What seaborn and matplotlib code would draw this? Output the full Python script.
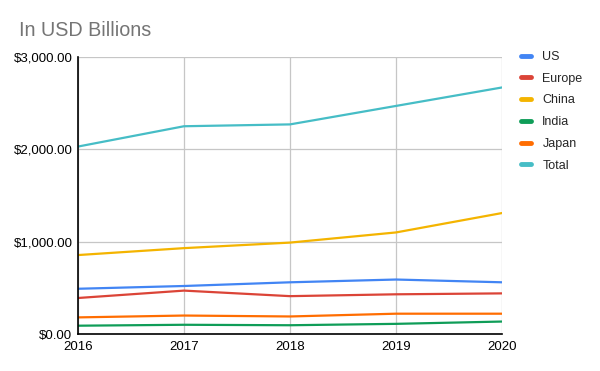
import pandas as pd
import matplotlib
matplotlib.use("Agg")
import matplotlib.pyplot as plt
import seaborn as sns

# Data (USD billions)
years = [2016, 2017, 2018, 2019, 2020]
us = [490, 520, 560, 590, 560]
europe = [390, 470, 410, 430, 440]
china = [855, 930, 990, 1100, 1310]
india = [90, 100, 95, 110, 135]
japan = [180, 200, 190, 220, 220]
total = [2030, 2250, 2270, 2470, 2670]

series = ["US", "Europe", "China", "India", "Japan", "Total"]
colors = ["#4285F4", "#DB4437", "#F4B400", "#0F9D58", "#FF6D01", "#46BDC6"]

df = pd.DataFrame({"Year": years, "US": us, "Europe": europe, "China": china,
                   "India": india, "Japan": japan, "Total": total})
long_df = df.melt(id_vars="Year", var_name="Region", value_name="Value")

sns.set_style("white")
plt.rcParams["font.family"] = ["Liberation Sans", "DejaVu Sans"]

fig = plt.figure(figsize=(6, 3.71), dpi=100)
ax = fig.add_axes([0.13, 0.0997, 0.7067, 0.7467])

sns.lineplot(data=long_df, x="Year", y="Value", hue="Region", hue_order=series,
             palette=colors, linewidth=1.6, ax=ax)

ax.set_xlim(2016, 2020)
ax.set_ylim(0, 3000)
ax.set_xticks(years)
ax.set_xticklabels([str(y) for y in years])
ax.set_yticks([0, 1000, 2000, 3000])
ax.set_yticklabels(["$0.00", "$1,000.00", "$2,000.00", "$3,000.00"])
ax.set_xlabel("")
ax.set_ylabel("")
ax.grid(True, color="#c6c6c6", linewidth=0.9)
ax.set_axisbelow(True)
ax.tick_params(axis="both", length=0, labelsize=9.5, colors="black", pad=4)
ax.tick_params(axis="x", pad=5)

for side in ["top", "right"]:
    ax.spines[side].set_visible(False)
for side in ["left", "bottom"]:
    ax.spines[side].set_color("black")
    ax.spines[side].set_linewidth(1.2)

handles, labels = ax.get_legend_handles_labels()
ax.legend(handles, labels, loc="upper left", bbox_to_anchor=(1.045, 1.022),
          frameon=False, fontsize=9, handlelength=0.8, handletextpad=0.9,
          labelspacing=0.78, borderpad=0, borderaxespad=0)
for line in ax.get_legend().get_lines():
    line.set_linewidth(3.5)

fig.text(0.032, 0.918, "In USD Billions", fontsize=14.2, color="#757575",
         ha="left", va="center")

fig.savefig("out.png", dpi=100, facecolor="white")
